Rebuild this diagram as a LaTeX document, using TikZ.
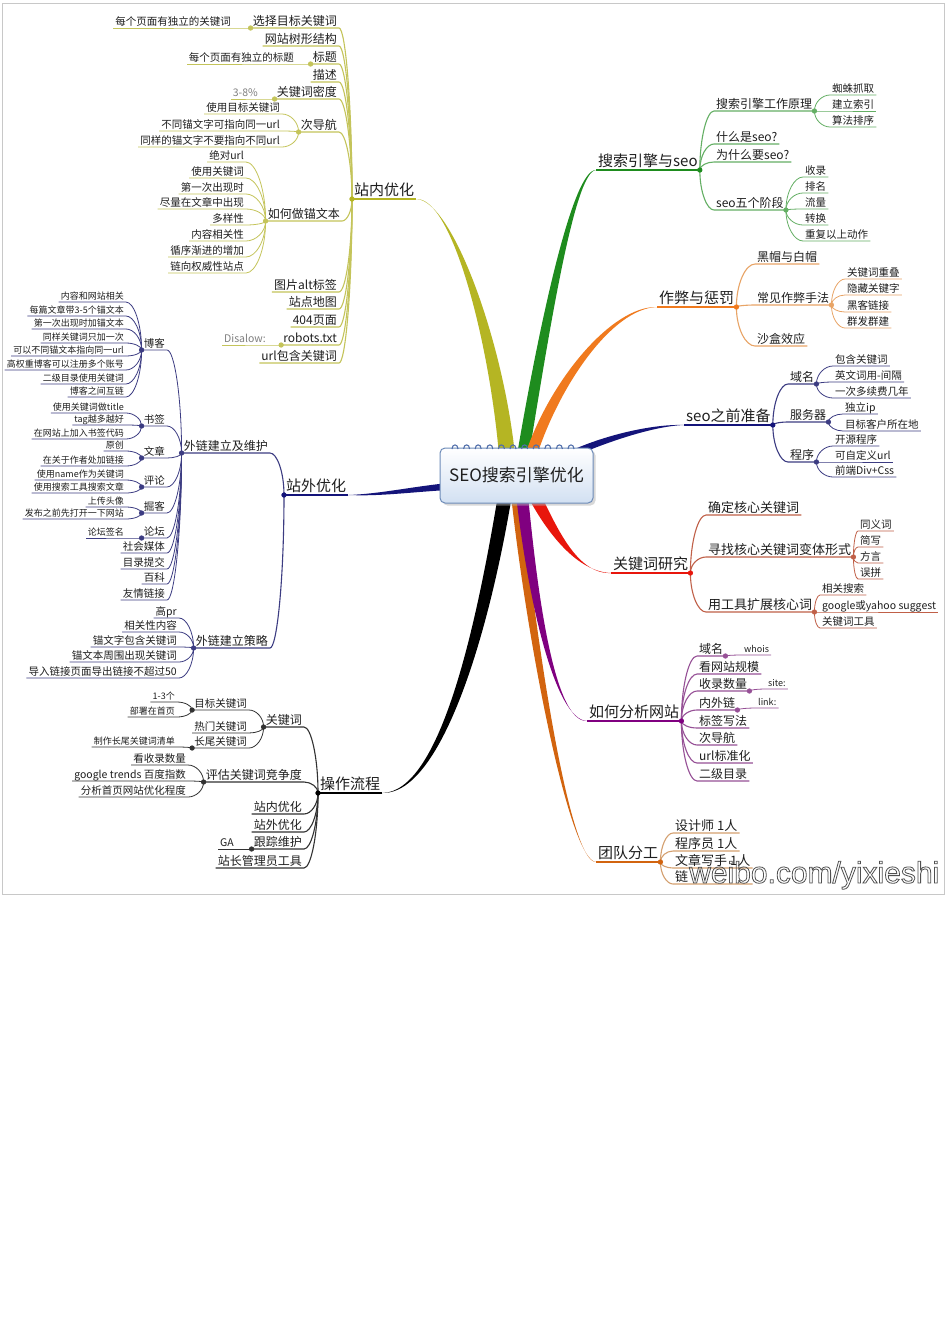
\documentclass[tikz,border=0pt]{standalone}
\usepackage{fontspec}
\setmainfont{Noto Sans CJK SC}
\newfontfamily\wmfont{Liberation Sans}
\usetikzlibrary{calc,shadows}
\pgfdeclarelayer{paper}
\pgfdeclarelayer{bg}
\pgfsetlayers{paper,bg,main}
\definecolor{olM}{RGB}{181,181,35}
\definecolor{olS}{RGB}{196,196,90}
\definecolor{grM}{RGB}{30,140,30}
\definecolor{grS}{RGB}{100,175,100}
\definecolor{orM}{RGB}{240,122,30}
\definecolor{orS}{RGB}{232,164,102}
\definecolor{nvM}{RGB}{20,20,122}
\definecolor{nvS}{RGB}{60,60,130}
\definecolor{rdM}{RGB}{232,22,12}
\definecolor{rdS}{RGB}{192,96,72}
\definecolor{puM}{RGB}{128,0,128}
\definecolor{puS}{RGB}{150,80,150}
\definecolor{brM}{RGB}{210,100,15}
\definecolor{brS}{RGB}{212,160,112}
\definecolor{bkS}{RGB}{50,50,50}
\definecolor{txt}{RGB}{30,30,30}
\definecolor{rootB}{RGB}{110,140,185}
\definecolor{rootF}{RGB}{210,224,242}
\definecolor{ringc}{RGB}{80,110,170}
\definecolor{framec}{RGB}{200,200,200}
\definecolor{wmgray}{RGB}{80,80,80}
\begin{document}
\begin{tikzpicture}[x=1pt,y=-1pt,
  every node/.style={text=txt},
  L/.style={anchor=south east,inner xsep=2pt,inner ysep=0.8pt},
  R/.style={anchor=south west,inner xsep=2pt,inner ysep=0.8pt},
  fA/.style={font=\fontsize{15}{18}\selectfont,text height=12.8pt,text depth=2.3pt},
  fE/.style={font=\fontsize{13}{15}\selectfont,text height=11pt,text depth=2pt},
  fB/.style={font=\fontsize{12}{14}\selectfont,text height=10.2pt,text depth=1.8pt},
  fC/.style={font=\fontsize{10.5}{12}\selectfont,text height=8.9pt,text depth=1.6pt},
  fD/.style={font=\fontsize{9}{11}\selectfont,text height=7.7pt,text depth=1.4pt},
  gtxt/.style={text=gray},
  conn/.style={to path={.. controls ($(\tikztostart)!0.55!(\tikztostart|-\tikztotarget)$) and ($(\tikztotarget)!0.5!(\tikztostart|-\tikztotarget)$) .. (\tikztotarget) \tikztonodes}},
  ln2/.style={line width=1.1pt},
  ln3/.style={line width=0.8pt},
  mline/.style={line width=1.4pt},
  jdot/.style={circle,draw,fill=white,inner sep=0pt,minimum size=4.5pt,line width=0.7pt},
  root/.style={draw=rootB,line width=1pt,rounded corners=5pt,top color=white,bottom color=rootF,minimum width=153pt,minimum height=55pt,font=\fontsize{17}{20}\selectfont,drop shadow={shadow xshift=2.5pt,shadow yshift=-2.5pt,fill=black!30}},
]
\begin{pgfonlayer}{paper}
\fill[white] (0,0) rectangle (950,1344);
\end{pgfonlayer}
\useasboundingbox (0,0) rectangle (950,1344);
\draw[framec,line width=1pt] (2,3) rectangle (944,894);

% ---------- 站内优化 ----------
\node[R,fA] (zn) at (352,199) {站内优化};
\node[L,fB] (z1) at (339,28) {选择目标关键词};
\node[L,fB] (z2) at (339,46) {网站树形结构};
\node[L,fB] (z3) at (339,64) {标题};
\node[L,fB] (z4) at (339,82) {描述};
\node[L,fB] (z5) at (339,99) {关键词密度};
\node[L,fB] (z6) at (339,132) {次导航};
\node[L,fB] (z7) at (342,221) {如何做锚文本};
\node[L,fB] (z8) at (339,292) {图片alt标签};
\node[L,fB] (z9) at (339,309) {站点地图};
\node[L,fB] (z10) at (339,327) {404页面};
\node[L,fB] (z11) at (339,345) {robots.txt};
\node[L,fB] (z12) at (339,363) {url包含关键词};
\node[L,fC] (z1a) at (233,28) {每个页面有独立的关键词};
\node[L,fC] (z3a) at (296,64) {每个页面有独立的标题};
\node[L,fC,gtxt] (z5a) at (260,99) {3-8\%};
\node[L,fC] (z6a) at (282,114) {使用目标关键词};
\node[L,fC] (z6b) at (282,131) {不同锚文字可指向同一url};
\node[L,fC] (z6c) at (282,147) {同样的锚文字不要指向不同url};
\node[L,fC] (z7a) at (246,162) {绝对url};
\node[L,fC] (z7b) at (246,178) {使用关键词};
\node[L,fC] (z7c) at (246,194) {第一次出现时};
\node[L,fC] (z7d) at (246,209) {尽量在文章中出现};
\node[L,fC] (z7e) at (246,225) {多样性};
\node[L,fC] (z7f) at (246,241) {内容相关性};
\node[L,fC] (z7g) at (246,257) {循序渐进的增加};
\node[L,fC] (z7h) at (246,273) {链向权威性站点};
\node[L,fC,gtxt] (z11a) at (268,345) {Disalow:};

% ---------- 搜索引擎与seo ----------
\node[R,fA] (sn) at (596,170) {搜索引擎与seo};
\node[R,fB] (s1) at (714,111) {搜索引擎工作原理};
\node[R,fB] (s2) at (714,144) {什么是seo?};
\node[R,fB] (s3) at (714,162) {为什么要seo?};
\node[R,fB] (s4) at (714,210) {seo五个阶段};
\node[R,fC] (s1a) at (830,95) {蜘蛛抓取};
\node[R,fC] (s1b) at (830,111) {建立索引};
\node[R,fC] (s1c) at (830,127) {算法排序};
\node[R,fC] (s4a) at (803,177) {收录};
\node[R,fC] (s4b) at (803,193) {排名};
\node[R,fC] (s4c) at (803,209) {流量};
\node[R,fC] (s4d) at (803,225) {转换};
\node[R,fC] (s4e) at (803,241) {重复以上动作};

% ---------- 作弊与惩罚 ----------
\node[R,fA] (cn) at (657,307) {作弊与惩罚};
\node[R,fB] (c1) at (755,264) {黑帽与白帽};
\node[R,fB] (c2) at (755,305) {常见作弊手法};
\node[R,fB] (c3) at (755,346) {沙盒效应};
\node[R,fC] (c2a) at (845,279) {关键词重叠};
\node[R,fC] (c2b) at (845,295) {隐藏关键字};
\node[R,fC] (c2c) at (845,312) {黑客链接};
\node[R,fC] (c2d) at (845,328) {群发群建};

% ---------- seo之前准备 ----------
\node[R,fA] (pn) at (684,425) {seo之前准备};
\node[R,fB] (p1) at (788,384) {域名};
\node[R,fB] (p2) at (788,422) {服务器};
\node[R,fB] (p3) at (788,462) {程序};
\node[R,fC] (p1a) at (833,366) {包含关键词};
\node[R,fC] (p1b) at (833,382) {英文词用-间隔};
\node[R,fC] (p1c) at (833,398) {一次多续费几年};
\node[R,fC] (p2a) at (843,414) {独立ip};
\node[R,fC] (p2b) at (843,431) {目标客户所在地};
\node[R,fC] (p3a) at (833,446) {开源程序};
\node[R,fC] (p3b) at (833,462) {可自定义url};
\node[R,fC] (p3c) at (833,477) {前端Div+Css};

% ---------- 关键词研究 ----------
\node[R,fA] (kn) at (611,573) {关键词研究};
\node[R,fE] (k1) at (706,515) {确定核心关键词};
\node[R,fE] (k2) at (706,557) {寻找核心关键词变体形式};
\node[R,fE] (k3) at (706,612) {用工具扩展核心词};
\node[R,fC] (k2a) at (858,531) {同义词};
\node[R,fC] (k2b) at (858,547) {简写};
\node[R,fC] (k2c) at (858,563) {方言};
\node[R,fC] (k2d) at (858,579) {误拼};
\node[R,fC] (k3a) at (820,595) {相关搜索};
\node[R,fC] (k3b) at (820,612) {google或yahoo suggest};
\node[R,fC] (k3c) at (820,628) {关键词工具};

% ---------- 如何分析网站 ----------
\node[R,fA] (an) at (587,721) {如何分析网站};
\node[R,fB] (a1) at (697,656) {域名};
\node[R,fB] (a2) at (697,674) {看网站规模};
\node[R,fB] (a3) at (697,691) {收录数量};
\node[R,fB] (a4) at (697,710) {内外链};
\node[R,fB] (a5) at (697,728) {标签写法};
\node[R,fB] (a6) at (697,745) {次导航};
\node[R,fB] (a7) at (697,763) {url标准化};
\node[R,fB] (a8) at (697,781) {二级目录};
\node[R,fD] (a1a) at (742,655) {whois};
\node[R,fD] (a3a) at (766,689) {site:};
\node[R,fD] (a4a) at (756,708) {link:};

% ---------- 团队分工 ----------
\node[R,fA] (tn) at (596,862) {团队分工};
\node[R,fE] (t1) at (673,833) {设计师 1人};
\node[R,fE] (t2) at (673,851) {程序员 1人};
\node[R,fE] (t3) at (673,868) {文章写手 1人};
\node[R,fE] (t4) at (673,884) {链\phantom{接专员 1人}};

% ---------- 站外优化 ----------
\node[R,fA] (wn) at (284,495) {站外优化};
\node[L,fB] (w1) at (270,453) {外链建立及维护};
\node[L,fB] (w2) at (270,648) {外链建立策略};
\node[L,fC] (b1) at (167,350) {博客};
\node[L,fC] (b2) at (167,426) {书签};
\node[L,fC] (b3) at (167,458) {文章};
\node[L,fC] (b4) at (167,487) {评论};
\node[L,fC] (b5) at (167,513) {掘客};
\node[L,fC] (b6) at (167,538) {论坛};
\node[L,fC] (b7) at (167,553) {社会媒体};
\node[L,fC] (b8) at (167,569) {目录提交};
\node[L,fC] (b9) at (167,584) {百科};
\node[L,fC] (b10) at (167,600) {友情链接};
\node[L,fD] (b1a) at (126,302) {内容和网站相关};
\node[L,fD] (b1b) at (126,316) {每篇文章带3-5个锚文本};
\node[L,fD] (b1c) at (126,329) {第一次出现时加锚文本};
\node[L,fD] (b1d) at (126,343) {同样关键词只加一次};
\node[L,fD] (b1e) at (126,356) {可以不同锚文本指向同一url};
\node[L,fD] (b1f) at (126,370) {高权重博客可以注册多个账号};
\node[L,fD] (b1g) at (126,384) {二级目录使用关键词};
\node[L,fD] (b1h) at (126,397) {博客之间互链};
\node[L,fD] (b2a) at (126,413) {使用关键词做title};
\node[L,fD] (b2b) at (126,425) {tag越多越好};
\node[L,fD] (b2c) at (126,439) {在网站上加入书签代码};
\node[L,fD] (b3a) at (126,451) {原创};
\node[L,fD] (b3b) at (126,466) {在关于作者处加链接};
\node[L,fD] (b4a) at (126,480) {使用name作为关键词};
\node[L,fD] (b4b) at (126,493) {使用搜索工具搜索文章};
\node[L,fD] (b5a) at (126,507) {上传头像};
\node[L,fD] (b5b) at (126,519) {发布之前先打开一下网站};
\node[L,fD] (b6a) at (126,538) {论坛签名};
\node[L,fC] (w2a) at (179,618) {高pr};
\node[L,fC] (w2b) at (179,632) {相关性内容};
\node[L,fC] (w2c) at (179,647) {锚文字包含关键词};
\node[L,fC] (w2d) at (179,662) {锚文本周围出现关键词};
\node[L,fC] (w2e) at (179,678) {导入链接页面导出链接不超过50};

% ---------- 操作流程 ----------
\node[R,fA] (on) at (318,793) {操作流程};
\node[L,fB] (o1) at (304,727) {关键词};
\node[L,fB] (o2) at (304,782) {评估关键词竞争度};
\node[L,fB] (o3) at (304,814) {站内优化};
\node[L,fB] (o4) at (304,832) {站外优化};
\node[L,fB] (o5) at (304,849) {跟踪维护};
\node[L,fB] (o6) at (304,868) {站长管理员工具};
\node[L,fC] (o1a) at (249,710) {目标关键词};
\node[L,fC] (o1b) at (249,733) {热门关键词};
\node[L,fC] (o1c) at (249,748) {长尾关键词};
\node[L,fD] (o1a1) at (177,702) {1-3个};
\node[L,fD] (o1a2) at (177,717) {部署在首页};
\node[L,fD] (o1c1) at (177,747) {制作长尾关键词清单};
\node[L,fC] (o2a) at (188,765) {看收录数量};
\node[L,fC] (o2b) at (188,781) {google trends 百度指数};
\node[L,fC] (o2c) at (188,797) {分析首页网站优化程度};
\node[L,fC] (o5a) at (236,849) {GA};

% ---------- connectors ----------
\draw[mline,olM] (zn.south east) -- (zn.south west);
\foreach \x in {z1,z2,z3,z4,z5,z6,z7,z8,z9,z10,z11,z12}
  \draw[ln2,olS] (zn.south west) to[conn] (\x.south east) -- (\x.south west);
\draw[ln3,olS] (z1.south west) to[conn] (z1a.south east) -- (z1a.south west);
\draw[ln3,olS] (z3.south west) to[conn] (z3a.south east) -- (z3a.south west);
\draw[ln3,olS] (z5.south west) to[conn] (z5a.south east) -- (z5a.south west);
\foreach \x in {z6a,z6b,z6c}
  \draw[ln3,olS] (z6.south west) to[conn] (\x.south east) -- (\x.south west);
\foreach \x in {z7a,z7b,z7c,z7d,z7e,z7f,z7g,z7h}
  \draw[ln3,olS] (z7.south west) to[conn] (\x.south east) -- (\x.south west);
\draw[ln3,olS] (z11.south west) to[conn] (z11a.south east) -- (z11a.south west);
\draw[mline,grM] (sn.south west) -- (sn.south east);
\foreach \x in {s1,s2,s3,s4}
  \draw[ln2,grS] (sn.south east) to[conn] (\x.south west) -- (\x.south east);
\foreach \x in {s1a,s1b,s1c}
  \draw[ln3,grS] (s1.south east) to[conn] (\x.south west) -- (\x.south east);
\foreach \x in {s4a,s4b,s4c,s4d,s4e}
  \draw[ln3,grS] (s4.south east) to[conn] (\x.south west) -- (\x.south east);
\draw[mline,orM] (cn.south west) -- (cn.south east);
\foreach \x in {c1,c2,c3}
  \draw[ln2,orS] (cn.south east) to[conn] (\x.south west) -- (\x.south east);
\foreach \x in {c2a,c2b,c2c,c2d}
  \draw[ln3,orS] (c2.south east) to[conn] (\x.south west) -- (\x.south east);
\draw[mline,nvM] (pn.south west) -- (pn.south east);
\foreach \x in {p1,p2,p3}
  \draw[ln2,nvS] (pn.south east) to[conn] (\x.south west) -- (\x.south east);
\foreach \x in {p1a,p1b,p1c}
  \draw[ln3,nvS] (p1.south east) to[conn] (\x.south west) -- (\x.south east);
\foreach \x in {p2a,p2b}
  \draw[ln3,nvS] (p2.south east) to[conn] (\x.south west) -- (\x.south east);
\foreach \x in {p3a,p3b,p3c}
  \draw[ln3,nvS] (p3.south east) to[conn] (\x.south west) -- (\x.south east);
\draw[mline,rdM] (kn.south west) -- (kn.south east);
\foreach \x in {k1,k2,k3}
  \draw[ln2,rdS] (kn.south east) to[conn] (\x.south west) -- (\x.south east);
\foreach \x in {k2a,k2b,k2c,k2d}
  \draw[ln3,rdS] (k2.south east) to[conn] (\x.south west) -- (\x.south east);
\foreach \x in {k3a,k3b,k3c}
  \draw[ln3,rdS] (k3.south east) to[conn] (\x.south west) -- (\x.south east);
\draw[mline,puM] (an.south west) -- (an.south east);
\foreach \x in {a1,a2,a3,a4,a5,a6,a7,a8}
  \draw[ln2,puS] (an.south east) to[conn] (\x.south west) -- (\x.south east);
\draw[ln3,puS] (a1.south east) to[conn] (a1a.south west) -- (a1a.south east);
\draw[ln3,puS] (a3.south east) to[conn] (a3a.south west) -- (a3a.south east);
\draw[ln3,puS] (a4.south east) to[conn] (a4a.south west) -- (a4a.south east);
\draw[mline,brM] (tn.south west) -- (tn.south east);
\foreach \x in {t1,t2,t3,t4}
  \draw[ln2,brS] (tn.south east) to[conn] (\x.south west) -- (\x.south east);
\draw[mline,nvM] (wn.south east) -- (wn.south west);
\foreach \x in {w1,w2}
  \draw[ln2,nvS] (wn.south west) to[conn] (\x.south east) -- (\x.south west);
\foreach \x in {b1,b2,b3,b4,b5,b6,b7,b8,b9,b10}
  \draw[ln3,nvS] (w1.south west) to[conn] (\x.south east) -- (\x.south west);
\foreach \x in {b1a,b1b,b1c,b1d,b1e,b1f,b1g,b1h}
  \draw[ln3,nvS] (b1.south west) to[conn] (\x.south east) -- (\x.south west);
\foreach \x in {b2a,b2b,b2c}
  \draw[ln3,nvS] (b2.south west) to[conn] (\x.south east) -- (\x.south west);
\foreach \x in {b3a,b3b}
  \draw[ln3,nvS] (b3.south west) to[conn] (\x.south east) -- (\x.south west);
\foreach \x in {b4a,b4b}
  \draw[ln3,nvS] (b4.south west) to[conn] (\x.south east) -- (\x.south west);
\foreach \x in {b5a,b5b}
  \draw[ln3,nvS] (b5.south west) to[conn] (\x.south east) -- (\x.south west);
\draw[ln3,nvS] (b6.south west) to[conn] (b6a.south east) -- (b6a.south west);
\foreach \x in {w2a,w2b,w2c,w2d,w2e}
  \draw[ln3,nvS] (w2.south west) to[conn] (\x.south east) -- (\x.south west);
\draw[mline,black] (on.south east) -- (on.south west);
\foreach \x in {o1,o2,o3,o4,o5,o6}
  \draw[ln2,bkS] (on.south west) to[conn] (\x.south east) -- (\x.south west);
\foreach \x in {o1a,o1b,o1c}
  \draw[ln3,bkS] (o1.south west) to[conn] (\x.south east) -- (\x.south west);
\foreach \x in {o1a1,o1a2}
  \draw[ln3,bkS] (o1a.south west) to[conn] (\x.south east) -- (\x.south west);
\draw[ln3,bkS] (o1c.south west) to[conn] (o1c1.south east) -- (o1c1.south west);
\foreach \x in {o2a,o2b,o2c}
  \draw[ln3,bkS] (o2.south west) to[conn] (\x.south east) -- (\x.south west);
\draw[ln3,bkS] (o5.south west) to[conn] (o5a.south east) -- (o5a.south west);

% ---------- main tapered branches ----------
\begin{pgfonlayer}{bg}
\fill[olM] (499,455) .. controls (489,340) and (452,197.6) .. (zn.south east) .. controls (452,200.4) and (503,340) .. (515,455) -- cycle;
\fill[grM] (517,455) .. controls (540,320) and (573,168.8) .. (sn.south west) .. controls (575,171.5) and (551,320) .. (529,455) -- cycle;
\fill[orM] (525,455) .. controls (550,380) and (612,305.8) .. (cn.south west) .. controls (612,308.5) and (560,385) .. (537,455) -- cycle;
\fill[nvM] (562,455) .. controls (597,437) and (650,423.8) .. (pn.south west) .. controls (650,426.3) and (600,445) .. (570,458) -- cycle;
\fill[brM] (511,495) .. controls (528,650) and (570,860.8) .. (tn.south west) .. controls (570,863.5) and (537,650) .. (521,495) -- cycle;
\fill[puM] (516,495) .. controls (528,600) and (555,719.8) .. (an.south west) .. controls (555,722.5) and (538,600) .. (528,495) -- cycle;
\fill[rdM] (527,495) .. controls (548,535) and (578,571.8) .. (kn.south west) .. controls (578,574.5) and (558,530) .. (541,495) -- cycle;
\fill[black] (498,495) .. controls (474,640) and (438,791.8) .. (on.south east) .. controls (440,794.5) and (488,640) .. (512,495) -- cycle;
\fill[nvM] (448,483) .. controls (410,487) and (380,493.8) .. (wn.south east) .. controls (380,496.5) and (412,492) .. (448,490) -- cycle;
\end{pgfonlayer}

% ---------- central topic ----------
\node[root] (root) at (516.5,475.5) {SEO搜索引擎优化};
\foreach \i in {0,...,10}
  \draw[ringc,line width=1.1pt] ({452+11.6*\i},449) .. controls ({452+11.6*\i},443.5) and ({458+11.6*\i},443.5) .. ({458+11.6*\i},449);

% ---------- junction dots ----------
\node[jdot,olM] (jzn) at (zn.south west) {};
\node[jdot,grM] (jsn) at (sn.south east) {};
\node[jdot,orM] (jcn) at (cn.south east) {};
\node[jdot,nvM] (jpn) at (pn.south east) {};
\node[jdot,rdM] (jkn) at (kn.south east) {};
\node[jdot,puM] (jan) at (an.south east) {};
\node[jdot,brM] (jtn) at (tn.south east) {};
\node[jdot,nvM] (jwn) at (wn.south west) {};
\node[jdot,black] (jon) at (on.south west) {};
\foreach \x in {z1,z3,z5,z6,z7,z11} \node[jdot,olS] (j\x) at (\x.south west) {};
\foreach \x in {s1,s4} \node[jdot,grS] (j\x) at (\x.south east) {};
\node[jdot,orS] (jc2) at (c2.south east) {};
\foreach \x in {p1,p2,p3} \node[jdot,nvS] (j\x) at (\x.south east) {};
\foreach \x in {k2,k3} \node[jdot,rdS] (j\x) at (\x.south east) {};
\foreach \x in {a1,a3,a4} \node[jdot,puS] (j\x) at (\x.south east) {};
\foreach \x in {w1,w2,b1,b2,b3,b4,b5,b6} \node[jdot,nvS] (j\x) at (\x.south west) {};
\foreach \x in {o1,o2,o1a,o1c,o5} \node[jdot,bkS] (j\x) at (\x.south west) {};

% ---------- watermark ----------
\node[anchor=base west,inner sep=0pt,text=wmgray,font=\wmfont\fontsize{30}{30}\selectfont] (wm) at (689,883) {\special{pdf:literal direct 1 Tr 0.8 w}weibo.com/yixieshi\special{pdf:literal direct 0 Tr}};
\end{tikzpicture}
\end{document}
